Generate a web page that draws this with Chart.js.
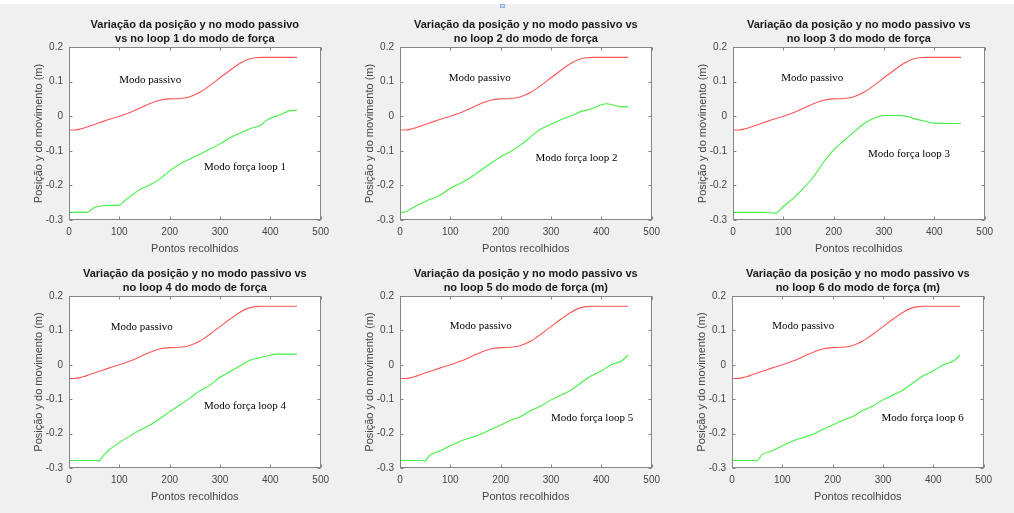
<!DOCTYPE html>
<html>
<head>
<meta charset="utf-8">
<title>Variação da posição y no modo passivo vs modo de força</title>
<script src="https://cdn.jsdelivr.net/npm/chart.js@4.4.1/dist/chart.umd.min.js"></script>
<style>
  html, body { margin: 0; padding: 0; }
  body { width: 1014px; height: 513px; background: #f0f0f0; position: relative; overflow: hidden; }
  #topStrip { position: absolute; left: 0; top: 0; width: 1014px; height: 4px; background: #ffffff; }
  #dockIcon { position: absolute; left: 500px; top: 4px; width: 3px; height: 2px; background: #c4dbf2; border: 1px solid #8fb2dc; }
  canvas { position: absolute; }
</style>
</head>
<body>
<div id="topStrip"></div>
<div id="dockIcon"></div>
<script>
// posição y (m) against pontos recolhidos
const passivoX = [0, 10, 20, 30, 40, 60, 80, 100, 120, 140, 160, 180, 200, 220, 235, 250, 260, 280, 300, 320, 340, 355, 370, 385, 400, 453];
const passivoY = [-0.040, -0.040, -0.038, -0.034, -0.029, -0.019, -0.009, 0.000, 0.010, 0.023, 0.036, 0.046, 0.050, 0.051, 0.054, 0.062, 0.069, 0.089, 0.111, 0.133, 0.153, 0.164, 0.169, 0.170, 0.170, 0.170];

const loop1X = [0, 35, 40, 50, 60, 70, 100, 110, 120, 140, 160, 180, 200, 220, 240, 260, 280, 300, 320, 340, 360, 380, 390, 400, 420, 440, 453];
const loop1Y = [-0.278, -0.278, -0.275, -0.264, -0.261, -0.258, -0.257, -0.245, -0.234, -0.213, -0.199, -0.182, -0.158, -0.138, -0.124, -0.110, -0.095, -0.080, -0.062, -0.049, -0.036, -0.027, -0.015, -0.006, 0.004, 0.016, 0.017];

const loop2X = [0, 10, 20, 40, 60, 80, 100, 120, 140, 160, 180, 200, 220, 240, 260, 280, 300, 320, 340, 360, 380, 400, 410, 420, 440, 453];
const loop2Y = [-0.278, -0.277, -0.269, -0.254, -0.240, -0.228, -0.208, -0.194, -0.177, -0.157, -0.136, -0.117, -0.102, -0.083, -0.059, -0.037, -0.023, -0.010, 0.001, 0.014, 0.021, 0.033, 0.036, 0.034, 0.027, 0.027];

const loop3X = [0, 60, 85, 100, 120, 140, 160, 180, 200, 220, 240, 260, 280, 300, 320, 340, 360, 380, 400, 453];
const loop3Y = [-0.278, -0.278, -0.280, -0.261, -0.237, -0.208, -0.175, -0.133, -0.097, -0.071, -0.046, -0.022, -0.006, 0.002, 0.002, 0.001, -0.007, -0.014, -0.020, -0.021];

const loop4X = [0, 55, 58, 70, 80, 100, 120, 140, 160, 180, 200, 220, 240, 260, 280, 300, 320, 340, 360, 380, 400, 410, 453];
const loop4Y = [-0.278, -0.278, -0.280, -0.261, -0.247, -0.226, -0.208, -0.191, -0.176, -0.157, -0.136, -0.117, -0.097, -0.075, -0.059, -0.036, -0.020, -0.003, 0.013, 0.021, 0.028, 0.031, 0.031];

const loop5X = [0, 45, 48, 60, 80, 100, 120, 140, 160, 180, 200, 220, 240, 260, 280, 300, 320, 340, 360, 380, 400, 420, 440, 453];
const loop5Y = [-0.278, -0.278, -0.280, -0.262, -0.250, -0.235, -0.222, -0.212, -0.202, -0.188, -0.175, -0.161, -0.150, -0.133, -0.120, -0.102, -0.088, -0.073, -0.052, -0.032, -0.018, 0.000, 0.011, 0.028];

const loop6X = [0, 45, 48, 60, 80, 100, 120, 140, 160, 180, 200, 220, 240, 260, 280, 300, 320, 340, 360, 380, 400, 420, 440, 453];
const loop6Y = [-0.278, -0.278, -0.280, -0.261, -0.250, -0.235, -0.222, -0.212, -0.202, -0.188, -0.175, -0.161, -0.150, -0.133, -0.120, -0.102, -0.088, -0.073, -0.052, -0.032, -0.018, 0.000, 0.011, 0.028];

const xTicks = [0, 100, 200, 300, 400, 500];
const yTicks = [-0.3, -0.2, -0.1, 0, 0.1, 0.2];

const AXIS_W = 62;      // room for y tick labels + y title
const XAXIS_H = 36;     // room for x tick labels + x title
const TITLE_H = 29;
const PAD_RIGHT = 12;
const PLOT_W = 252;

const panels = [
  { left: 69,  top: 47,  height: 173, title: ['Variação da posição y no modo passivo', 'vs no loop 1 do modo de força'],
    xs: loop1X, ys: loop1Y, label: 'Modo força loop 1', passivoAt: [100, 0.105], forcaAt: [268, -0.146] },
  { left: 400, top: 47,  height: 173, title: ['Variação da posição y no modo passivo vs', 'no loop 2 do modo de força'],
    xs: loop2X, ys: loop2Y, label: 'Modo força loop 2', passivoAt: [97, 0.110], forcaAt: [269, -0.122] },
  { left: 733, top: 47,  height: 173, title: ['Variação da posição y no modo passivo vs', 'no loop 3 do modo de força'],
    xs: loop3X, ys: loop3Y, label: 'Modo força loop 3', passivoAt: [96, 0.110], forcaAt: [268, -0.110] },
  { left: 69,  top: 296, height: 172, title: ['Variação da posição y no modo passivo vs', 'no loop 4 do modo de força'],
    xs: loop4X, ys: loop4Y, label: 'Modo força loop 4', passivoAt: [83, 0.110], forcaAt: [268, -0.119] },
  { left: 400, top: 296, height: 172, title: ['Variação da posição y no modo passivo vs', 'no loop 5 do modo de força (m)'],
    xs: loop5X, ys: loop5Y, label: 'Modo força loop 5', passivoAt: [99, 0.112], forcaAt: [300, -0.155] },
  { left: 732, top: 296, height: 172, title: ['Variação da posição y no modo passivo vs', 'no loop 6 do modo de força (m)'],
    xs: loop6X, ys: loop6Y, label: 'Modo força loop 6', passivoAt: [80, 0.112], forcaAt: [297, -0.155] }
];

const toPoints = (xs, ys) => xs.map((x, i) => ({ x: x, y: ys[i] }));

// white axes background, box, inward ticks and the text() labels
const axesBoxPlugin = {
  id: 'axesBox',
  beforeDraw(chart) {
    const { ctx, chartArea: a } = chart;
    ctx.save();
    ctx.fillStyle = '#ffffff';
    ctx.fillRect(a.left, a.top, a.right - a.left, a.bottom - a.top);
    ctx.restore();
  },
  afterDatasetsDraw(chart, args, opts) {
    const { ctx, chartArea: a, scales } = chart;
    const l = Math.round(a.left) + 0.5, r = Math.round(a.right) - 0.5;
    const t = Math.round(a.top) + 0.5, b = Math.round(a.bottom) - 0.5;
    const len = 3;

    ctx.save();
    ctx.fillStyle = '#000000';
    ctx.font = '11px "Liberation Serif", "Times New Roman", serif';
    ctx.textBaseline = 'middle';
    ctx.textAlign = 'left';
    opts.texts.forEach(({ text, at }) => {
      ctx.fillText(text, scales.x.getPixelForValue(at[0]), scales.y.getPixelForValue(at[1]));
    });

    ctx.strokeStyle = '#858585';
    ctx.lineWidth = 1;
    ctx.strokeRect(l, t, r - l, b - t);
    ctx.beginPath();
    scales.x.ticks.forEach(tk => {
      const px = Math.round(scales.x.getPixelForValue(tk.value)) + 0.5;
      ctx.moveTo(px, b); ctx.lineTo(px, b - len);
      ctx.moveTo(px, t); ctx.lineTo(px, t + len);
    });
    scales.y.ticks.forEach(tk => {
      const py = Math.round(scales.y.getPixelForValue(tk.value)) + 0.5;
      ctx.moveTo(l, py); ctx.lineTo(l + len, py);
      ctx.moveTo(r, py); ctx.lineTo(r - len, py);
    });
    ctx.stroke();
    ctx.restore();
  }
};

const tickFont = { family: '"Liberation Sans", Arial, sans-serif', size: 10 };
const labelFont = { family: '"Liberation Sans", Arial, sans-serif', size: 11 };

function formatTick(v) {
  if (Math.abs(v) < 1e-9) return '0';
  return String(Math.round(v * 10) / 10);
}

function buildPanel(p) {
  const canvas = document.createElement('canvas');
  const w = AXIS_W + PLOT_W + PAD_RIGHT;
  const h = TITLE_H + p.height + XAXIS_H;
  canvas.width = w;
  canvas.height = h;
  canvas.style.width = w + 'px';
  canvas.style.height = h + 'px';
  document.body.appendChild(canvas);

  const chart = new Chart(canvas.getContext('2d'), {
    type: 'line',
    data: {
      datasets: [
        {
          label: 'Modo passivo',
          data: toPoints(passivoX, passivoY),
          borderColor: 'rgb(255, 85, 85)',
          borderWidth: 1.1,
          pointRadius: 0,
          cubicInterpolationMode: 'monotone'
        },
        {
          label: p.label,
          data: toPoints(p.xs, p.ys),
          borderColor: 'rgb(70, 240, 70)',
          borderWidth: 1.1,
          pointRadius: 0,
          cubicInterpolationMode: 'monotone'
        }
      ]
    },
    options: {
      responsive: false,
      maintainAspectRatio: false,
      animation: false,
      events: [],
      layout: { padding: { top: 0, left: 0, right: PAD_RIGHT, bottom: 0 } },
      plugins: {
        legend: { display: false },
        tooltip: { enabled: false },
        title: {
          display: true,
          fullSize: false,
          text: p.title,
          color: '#1a1a1a',
          font: { family: '"Liberation Sans", Arial, sans-serif', size: 11, weight: 'bold', lineHeight: 1.25 },
          padding: { top: 0, bottom: 1.5 }
        },
        axesBox: {
          texts: [
            { text: 'Modo passivo', at: p.passivoAt },
            { text: p.label, at: p.forcaAt }
          ]
        }
      },
      scales: {
        x: {
          type: 'linear',
          min: 0,
          max: 500,
          afterBuildTicks: s => { s.ticks = xTicks.map(v => ({ value: v })); },
          afterFit: s => { s.height = XAXIS_H; },
          grid: { display: false, drawTicks: false },
          border: { display: false },
          ticks: { color: '#454545', font: tickFont, padding: 6, maxRotation: 0, callback: v => formatTick(v) },
          title: { display: true, text: 'Pontos recolhidos', color: '#454545', font: labelFont, padding: 0 }
        },
        y: {
          type: 'linear',
          min: -0.3,
          max: 0.2,
          afterBuildTicks: s => { s.ticks = yTicks.map(v => ({ value: v })); },
          afterFit: s => { s.width = AXIS_W; },
          grid: { display: false, drawTicks: false },
          border: { display: false },
          ticks: { color: '#454545', font: tickFont, padding: 6, callback: v => formatTick(v) },
          title: { display: true, text: 'Posição y do movimento (m)', color: '#454545', font: labelFont, padding: { top: 25, bottom: 0 } }
        }
      }
    },
    plugins: [axesBoxPlugin]
  });

  // grow the canvas until the plot area has the wanted size, then pin it in place
  for (let i = 0; i < 3; i++) {
    const a = chart.chartArea;
    const dw = PLOT_W - Math.round(a.right - a.left);
    const dh = p.height - Math.round(a.bottom - a.top);
    if (!dw && !dh) break;
    chart.resize(chart.width + dw, chart.height + dh);
  }
  const a = chart.chartArea;
  canvas.style.left = (p.left - Math.round(a.left)) + 'px';
  canvas.style.top = (p.top - Math.round(a.top)) + 'px';
}

panels.forEach(buildPanel);
</script>
</body>
</html>
